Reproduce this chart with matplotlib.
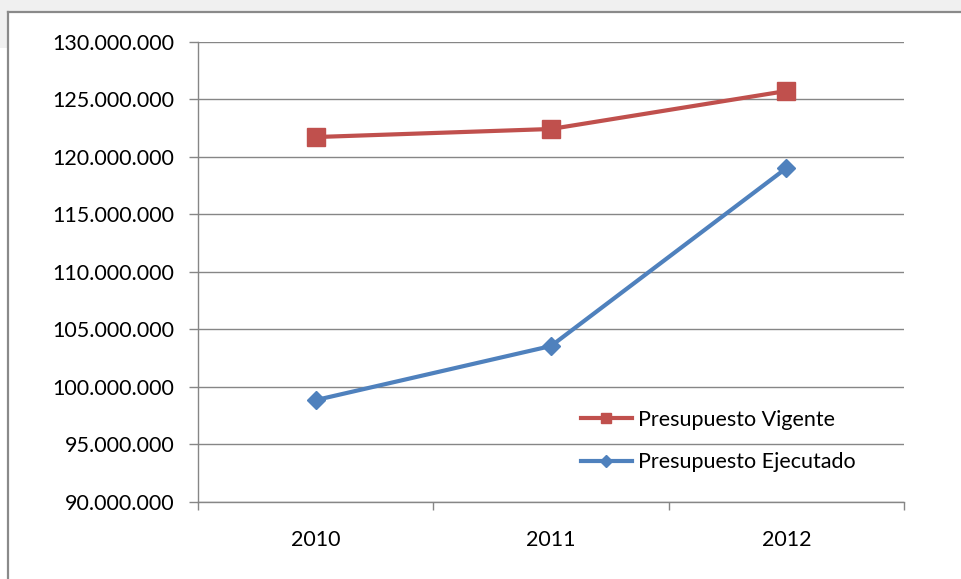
import matplotlib
matplotlib.use("Agg")
import matplotlib.pyplot as plt
from matplotlib.patches import Rectangle
from matplotlib.lines import Line2D
from matplotlib.ticker import FixedLocator, FuncFormatter

years = ["2010", "2011", "2012"]
vigente = [121700000, 122400000, 125700000]
ejecutado = [98850000, 103550000, 119000000]
series_names = ["Presupuesto Vigente", "Presupuesto Ejecutado"]

plt.rcParams['font.family'] = ['Lato', 'DejaVu Sans']
FS = 15.5

W, H = 961, 579
fig = plt.figure(figsize=(W / 100, H / 100), dpi=100)
fig.patch.set_facecolor('white')

# background grey strip and frame
fig.add_artist(Rectangle((0, 1 - 11 / H), 1, 11 / H, transform=fig.transFigure,
                         facecolor='#f0f0f0', edgecolor='none', zorder=0))
fig.add_artist(Rectangle((0, 1 - 48 / H), 8 / W, 48 / H, transform=fig.transFigure,
                         facecolor='#f0f0f0', edgecolor='none', zorder=0))
fig.add_artist(Line2D([8 / W, 1], [1 - 11.5 / H, 1 - 11.5 / H], transform=fig.transFigure,
                      color='#8a8a8a', lw=1.6, zorder=1))
fig.add_artist(Line2D([8 / W, 8 / W], [0, 1 - 11.5 / H], transform=fig.transFigure,
                      color='#8a8a8a', lw=1.6, zorder=1))

ax = fig.add_axes([198 / W, 1 - 502 / H, (904 - 198) / W, (502 - 41.5) / H])
x = list(range(len(years)))

ax.plot(x, vigente, color='#C0504D', lw=3, marker='s', markersize=13, zorder=3)
ax.plot(x, ejecutado, color='#4F81BD', lw=3, marker='D', markersize=9.5, zorder=3)

ax.set_xlim(-0.5, 2.5)
ax.set_ylim(90000000, 130000000)
ax.yaxis.set_major_locator(FixedLocator([90000000 + 5000000 * i for i in range(9)]))
ax.yaxis.set_major_formatter(FuncFormatter(lambda v, p: f"{int(v):,}".replace(",", ".")))
ax.grid(axis='y', color='#868686', lw=1)
ax.set_axisbelow(True)

ax.xaxis.set_major_locator(FixedLocator([-0.5, 0.5, 1.5, 2.5]))
ax.xaxis.set_major_formatter(FuncFormatter(lambda v, p: ""))
ax.xaxis.set_minor_locator(FixedLocator(x))
ax.set_xticklabels(years, minor=True)
ax.tick_params(axis='x', which='major', length=6, color='#868686', width=1)
ax.tick_params(axis='x', which='minor', length=0, pad=20, labelsize=FS)
ax.tick_params(axis='y', length=6.5, color='#868686', width=1, labelsize=FS, pad=10.5)

for s in ['top', 'right']:
    ax.spines[s].set_visible(False)
for s in ['left', 'bottom']:
    ax.spines[s].set_color('#868686')
    ax.spines[s].set_linewidth(1)

handles = [
    Line2D([], [], color='#C0504D', lw=3, marker='s', markersize=7),
    Line2D([], [], color='#4F81BD', lw=3, marker='D', markersize=6),
]
leg = ax.legend(handles, series_names, loc='upper left',
                bbox_to_anchor=((572 - 198) / 706, (502 - 401) / 460.5),
                frameon=False, fontsize=FS, handlelength=2.4, handletextpad=0.25,
                labelspacing=1.05, borderaxespad=0)

fig.savefig('out.png', dpi=100)
